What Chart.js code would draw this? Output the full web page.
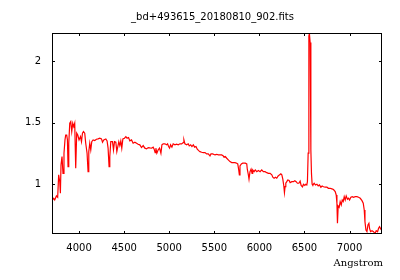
<!DOCTYPE html>
<html lang="en">
<head>
<meta charset="UTF-8">
<title>_bd+493615_20180810_902.fits</title>
<script src="https://cdn.jsdelivr.net/npm/chart.js"></script>
<style>
  body { margin: 0; background: #fff; }
  #wrap { width: 400px; height: 280px; }
</style>
</head>
<body>
<div id="wrap"><canvas id="spec" width="400" height="280"></canvas></div>
<script>
// spectrum (Angstrom, relative flux)
const wavelength = [
  3700,3719,3730,3749,3763,3774,3786,3793,3800,3811,3822,3833,3844,3852,3863,3871,3878,3886,3897,3908,
  3919,3930,3941,3952,3963,3974,3986,4000,4016,4027,4038,4049,4063,4074,4089,4100,4108,4119,4130,4141,
  4156,4174,4193,4211,4230,4249,4260,4274,
  4297,4311,4322,4333,4341,4352,4371,4382,4393,4408,4419,4430,4441,4452,4463,4474,4486,4504,4519,4533,
  4549,4563,4582,4600,4619,4638,4655,4674,4693,4711,4730,4749,4767,4785,
  4804,4822,4833,4844,4852,4863,4878,4893,4908,4919,4933,4952,4971,4982,4993,5004,5015,5030,5044,5063,
  5082,5100,5119,5138,5155,5163,5174,5193,5211,5222,5238,5252,5267,5282,5297,5311,5327,5341,5360,5378,
  5397,5415,5433,5452,5463,5482,5508,5527,5544,5563,5582,5600,5608,5622,5638,5655,5674,5693,5711,5730,
  5749,5760,5771,5778,5785,5800,5815,5830,5844,5860,5866,5878,5885,5896,5908,5919,5926,5941,
  5955,5971,5989,6008,6026,6044,6063,6082,6100,6119,6138,6149,6163,6178,6193,6208,6222,6238,6249,6260,
  6271,6278,6285,6293,6304,6315,6330,6341,6360,6378,6393,6408,6422,6438,6452,6463,6478,6489,6504,6515,
  6526,6533,6541,6549,6555,6563,6571,6578,6585,6593,6608,6622,6638,6652,6666,6682,6696,6711,6730,6749,
  6766,6785,6804,6822,6841,6852,6860,6866,6874,6885,6896,6908,6919,6930,6941,6952,6963,6977,6989,7000,
  7015,7030,7044,7063,7082,7100,7119,7138,7152,7163,7171,7182,7193,7204,7215,7222,7233,7249,7266,7282,
  7296,7311,7322,7333,7349,7360
];
const flux = [
  0.867,0.886,0.872,0.905,0.894,1.076,1.02,0.927,1.157,1.224,1.089,1.252,1.36,1.40,1.40,1.36,1.143,1.333,1.496,1.509,
  1.428,1.496,1.468,1.496,1.13,1.415,1.40,1.36,1.387,1.346,1.415,1.428,1.415,1.333,1.252,1.102,1.265,1.333,1.279,1.346,
  1.36,1.355,1.365,1.368,1.374,1.368,1.341,1.36,
  1.368,1.352,1.293,1.143,1.224,1.346,1.346,1.279,1.346,1.341,1.265,1.306,1.346,1.314,1.352,1.293,1.368,1.374,1.387,1.374,
  1.379,1.352,1.36,1.333,1.341,1.333,1.325,1.32,1.298,1.314,1.293,1.287,1.298,1.295,
  1.293,1.301,1.285,1.257,1.293,1.252,1.279,1.293,1.252,1.32,1.328,1.328,1.32,1.328,1.306,1.293,1.32,1.301,1.328,1.32,
  1.325,1.32,1.328,1.328,1.338,1.36,1.328,1.32,1.328,1.311,1.32,1.306,1.32,1.301,1.306,1.285,1.273,1.265,1.26,1.257,
  1.257,1.246,1.246,1.23,1.246,1.246,1.238,1.243,1.238,1.238,1.238,1.23,1.22,1.225,1.211,1.198,1.184,1.176,1.176,1.176,
  1.171,1.165,1.116,1.076,1.149,1.165,1.171,1.171,1.171,1.165,1.122,1.076,1.041,1.102,1.122,1.089,1.116,1.102,
  1.116,1.102,1.111,1.102,1.116,1.102,1.102,1.094,1.089,1.089,1.076,1.057,1.049,1.057,1.049,1.067,1.076,1.084,1.076,1.041,
  0.986,0.932,0.98,1.008,1.021,1.035,1.03,1.013,1.021,1.021,1.029,1.021,1.008,1.008,1.025,0.99,0.978,1.0,0.99,1.0,
  0.994,1.021,1.252,2.206,2.222,2.151,1.279,1.084,1.0,0.994,1.008,0.994,1.0,0.986,0.994,0.976,0.986,0.98,0.976,0.976,
  0.967,0.967,0.962,0.957,0.94,0.913,0.846,0.683,0.824,0.813,0.859,0.832,0.872,0.86,0.899,0.872,0.905,0.878,0.886,0.872,
  0.894,0.899,0.894,0.899,0.899,0.894,0.886,0.867,0.846,0.791,0.696,0.628,0.615,0.669,0.683,0.642,0.615,0.623,0.615,0.6,
  0.623,0.615,0.642,0.655,0.634,0.64
];
const xTicks = [4000, 4500, 5000, 5500, 6000, 6500, 7000];
const yTicks = [1, 1.5, 2];
const titleText = '_bd+493615_20180810_902.fits';
const xLabel = 'Angstrom';

const points = wavelength.map((w, i) => ({ x: w, y: flux[i] }));

// gnuplot-like frame: box, inward ticks on all four sides, title and x label
const framePlugin = {
    id: 'frame',
    afterDraw(chart) {
        const ctx = chart.ctx;
        const a = chart.chartArea;
        const sx = chart.scales.x, sy = chart.scales.y;
        const len = 3;
        ctx.save();
        ctx.strokeStyle = '#000';
        ctx.lineWidth = 1;
        ctx.strokeRect(a.left + 0.5, a.top + 0.5, a.right - a.left - 1, a.bottom - a.top - 1);
        ctx.beginPath();
        xTicks.forEach(v => {
            const px = Math.round(sx.getPixelForValue(v)) + 0.5;
            ctx.moveTo(px, a.bottom); ctx.lineTo(px, a.bottom - len);
            ctx.moveTo(px, a.top); ctx.lineTo(px, a.top + len);
        });
        yTicks.forEach(v => {
            const py = Math.round(sy.getPixelForValue(v)) + 0.5;
            ctx.moveTo(a.left, py); ctx.lineTo(a.left + len, py);
            ctx.moveTo(a.right, py); ctx.lineTo(a.right - len, py);
        });
        ctx.stroke();

        ctx.fillStyle = '#000';
        ctx.textBaseline = 'middle';
        ctx.font = '10px "DejaVu Sans"';
        ctx.textAlign = 'center';
        ctx.fillText(titleText, 212.5, 17);
        ctx.font = '10px "DejaVu Serif"';
        ctx.textAlign = 'right';
        ctx.fillText(xLabel, 383, 263);
        ctx.restore();
    }
};

new Chart(document.getElementById('spec'), {
    type: 'line',
    data: {
        datasets: [{
            data: points,
            borderColor: '#ff0000',
            borderWidth: 1.2,
            pointRadius: 0,
            tension: 0,
            fill: false
        }]
    },
    options: {
        responsive: false,
        animation: false,
        parsing: false,
        layout: { padding: { top: 33, right: 18, left: 0, bottom: 0 } },
        plugins: { legend: { display: false }, tooltip: { enabled: false }, title: { display: false } },
        scales: {
            x: {
                type: 'linear',
                min: 3700,
                max: 7360,
                afterBuildTicks: s => { s.ticks = xTicks.map(v => ({ value: v })); },
                afterFit: s => { s.height = 46; },
                grid: { display: false, drawTicks: false },
                border: { display: false },
                ticks: { color: '#000', padding: 8, maxRotation: 0, autoSkip: false,
                         callback: v => String(v),
                         font: { family: 'DejaVu Sans', size: 10 } }
            },
            y: {
                type: 'linear',
                min: 0.596,
                max: 2.228,
                afterBuildTicks: s => { s.ticks = yTicks.map(v => ({ value: v })); },
                afterFit: s => { s.width = 52; },
                grid: { display: false, drawTicks: false },
                border: { display: false },
                ticks: { color: '#000', padding: 11, callback: v => String(v),
                         font: { family: 'DejaVu Sans', size: 10 } }
            }
        }
    },
    plugins: [framePlugin]
});
</script>
</body>
</html>
